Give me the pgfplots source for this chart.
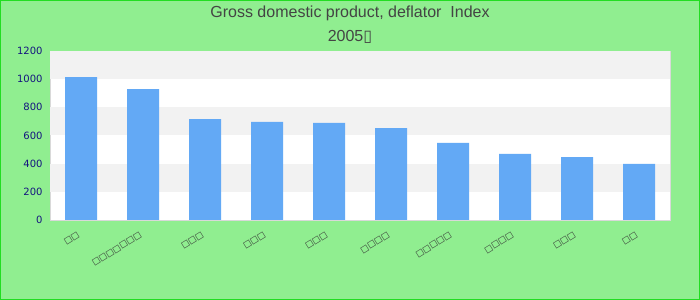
\documentclass[border=0pt]{standalone}
\usepackage{pgfplots}
\pgfplotsset{compat=1.18}
\usepackage{fontspec}
\setmainfont{Liberation Sans}
\newfontfamily\dejavu{DejaVu Sans}
\definecolor{bg}{HTML}{90EE90}
\definecolor{frm}{HTML}{22DD22}
\definecolor{barc}{HTML}{63A9F5}
\definecolor{band}{HTML}{F2F2F2}
\definecolor{ttl}{HTML}{444444}
\definecolor{tickc}{HTML}{14147F}
\definecolor{boxc}{HTML}{333333}
\begin{document}
\begin{tikzpicture}
\fill[bg] (0,0) rectangle (700bp,300bp);
\draw[frm, line width=1bp] (0.5bp,0.5bp) rectangle (699.5bp,299.5bp);
\node[ttl, font=\fontsize{16bp}{18bp}\selectfont] at (350bp,287bp) {Gross domestic product, deflator\ \ Index};
\node[ttl, font=\fontsize{16bp}{18bp}\selectfont] at (350bp,263bp) {2005{\dejavu ▯}};
\begin{axis}[
  at={(50bp,80bp)}, anchor=south west,
  scale only axis, width=620bp, height=169bp,
  xmin=-0.5, xmax=9.5, ymin=0, ymax=1200,
  ytick={0,200,...,1200},
  xtick={0,...,9},
  xticklabels={□□,□□□□□□□,□□□,□□□,□□□,□□□□,□□□□□,□□□□,□□□,□□},
  major tick length=0pt,
  axis line style={draw=black!15},
  /pgf/number format/assume math mode=true,
  /pgf/number format/1000 sep={},
  yticklabel style={font=\dejavu\fontsize{10bp}{12bp}\selectfont, text=tickc, xshift=-4bp},
  xticklabel style={font=\dejavu\fontsize{8.5bp}{10bp}\selectfont, text=boxc, rotate=32, anchor=north east, xshift=-6bp, yshift=-4bp},
  axis background/.style={fill=white},
]
\fill[band] (axis cs:-0.5,200) rectangle (axis cs:9.5,400);
\fill[band] (axis cs:-0.5,600) rectangle (axis cs:9.5,800);
\fill[band] (axis cs:-0.5,1000) rectangle (axis cs:9.5,1200);
\addplot[ybar, bar width=32bp, fill=barc, draw=none, bar shift=0pt] coordinates {
(0,1015) (1,930) (2,717) (3,696) (4,689) (5,653) (6,547) (7,469) (8,447) (9,398)};
\end{axis}
\end{tikzpicture}
\end{document}
